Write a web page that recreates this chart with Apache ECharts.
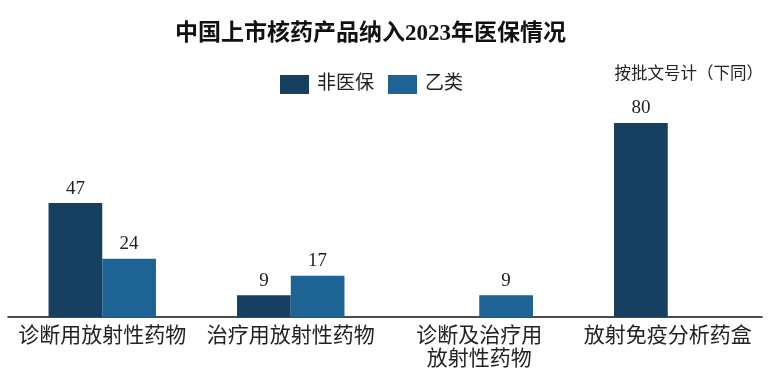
<!DOCTYPE html>
<html><head><meta charset="utf-8">
<script src="https://cdn.jsdelivr.net/npm/echarts@6/dist/echarts.min.js"></script>
<style>html,body{margin:0;padding:0;background:#fff}#c{width:772px;height:371px}</style>
</head><body><div id="c"></div>
<script>
const categories = ['诊断用放射性药物', '治疗用放射性药物', '诊断及治疗用\n放射性药物', '放射免疫分析药盒'];
const seriesNames = ['非医保', '乙类'];
const nonInsured = [47, 9, null, 80];
const classB = [24, 17, 9, null];
const titleText = '中国上市核药产品纳入2023年医保情况';
const noteText = '按批文号计（下同）';

const FONT = '"Liberation Serif", "Noto Sans CJK SC", serif';
const chart = echarts.init(document.getElementById('c'));
chart.setOption({
  backgroundColor: '#fff',
  animation: false,
  title: [{
    text: titleText, left: 170, top: 18,
    textStyle: { fontFamily: FONT, fontSize: 23, fontWeight: 'bold', color: '#111' }
  }, {
    text: noteText, right: 4, top: 61,
    textStyle: { fontFamily: FONT, fontSize: 16.5, fontWeight: 'normal', color: '#222' }
  }],
  legend: {
    top: 70, left: 275, itemWidth: 29, itemHeight: 19, itemGap: 14, icon: 'rect',
    textStyle: { fontFamily: FONT, fontSize: 19, color: '#222', padding: [0, 0, 0, 3] },
    data: seriesNames
  },
  grid: { left: 8, right: 10, top: 123, bottom: 53 },
  xAxis: {
    type: 'category', data: categories,
    axisLine: { lineStyle: { color: '#111', width: 1.5 } },
    axisTick: { show: false },
    axisLabel: { fontFamily: FONT, fontSize: 21, color: '#222', margin: 8, lineHeight: 23, interval: 0 }
  },
  yAxis: { type: 'value', min: 0, max: 80, show: false, splitLine: { show: false } },
  series: [{
    name: seriesNames[0], type: 'bar', data: nonInsured, barGap: '0%', barCategoryGap: '43%',
    itemStyle: { color: '#163F60' },
    label: { show: true, position: 'top', fontFamily: FONT, fontSize: 19, color: '#222', distance: 5 }
  }, {
    name: seriesNames[1], type: 'bar', data: classB,
    itemStyle: { color: '#1D6394' },
    label: { show: true, position: 'top', fontFamily: FONT, fontSize: 19, color: '#222', distance: 5 }
  }]
});
</script></body></html>
